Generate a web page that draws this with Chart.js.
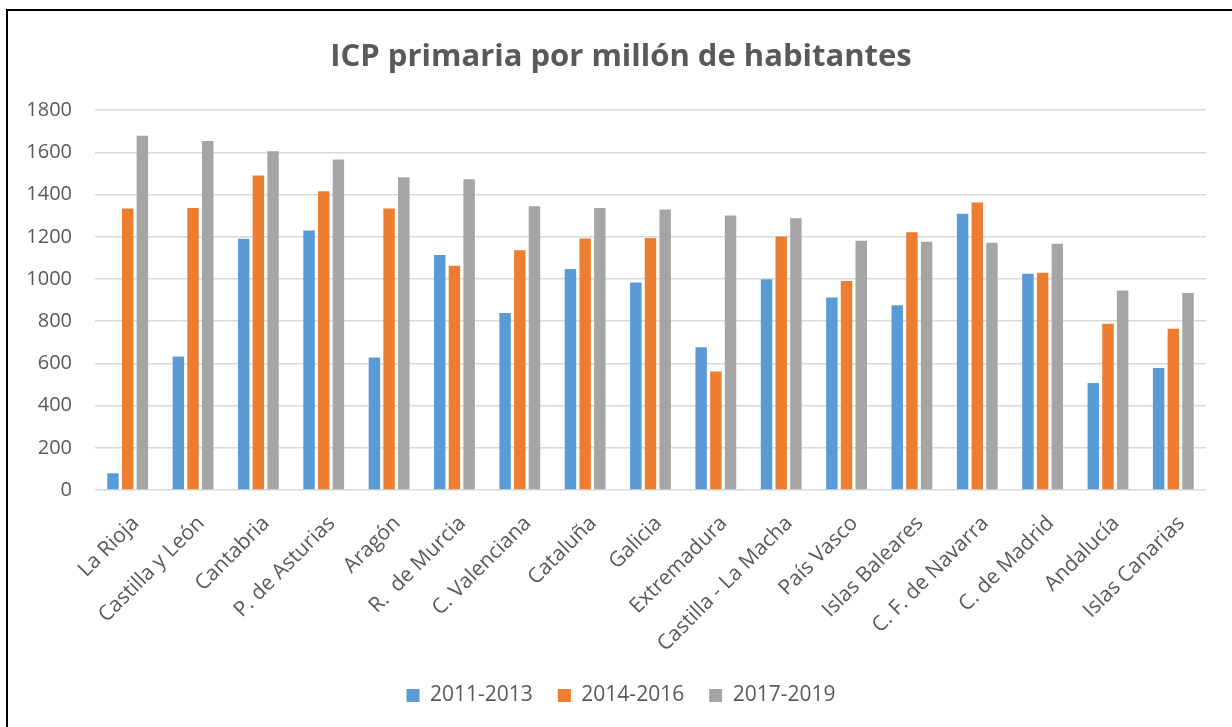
<!DOCTYPE html>
<html>
<head>
<meta charset="utf-8">
<title>ICP primaria por millón de habitantes</title>
<script src="https://cdn.jsdelivr.net/npm/chart.js@4/dist/chart.umd.min.js"></script>
<style>
  body { margin: 0; background: #fff; }
  #frame {
    position: absolute; left: 6px; top: 9px; width: 1300px; height: 800px;
    border-left: 2px solid #000; border-top: 2px solid #000; pointer-events: none;
  }
  canvas { position: absolute; left: 0; top: 0; }
</style>
</head>
<body>
<canvas id="myChart" width="1232" height="727"></canvas>
<div id="frame"></div>
<script>
'use strict';

// Regions (categories) and the three periods
const regions = ['La Rioja', 'Castilla y León', 'Cantabria', 'P. de Asturias', 'Aragón',
  'R.  de Murcia', 'C. Valenciana', 'Cataluña', 'Galicia', 'Extremadura',
  'Castilla - La Macha', 'País Vasco', 'Islas Baleares', 'C. F. de Navarra',
  'C. de Madrid', 'Andalucía', 'Islas Canarias'];

const periods = ['2011-2013', '2014-2016', '2017-2019'];

const values2011 = [79, 633, 1191, 1230, 628, 1114, 839, 1047, 983, 677, 999, 912, 876, 1309, 1025, 507, 578];
const values2014 = [1334, 1337, 1490, 1416, 1334, 1063, 1136, 1192, 1194, 562, 1202, 991, 1221, 1362, 1030, 788, 764];
const values2017 = [1679, 1654, 1605, 1566, 1482, 1473, 1345, 1337, 1329, 1301, 1288, 1181, 1177, 1172, 1167, 945, 934];

const yMin = 0;
const yMax = 1800;
const yStep = 200;

const colors = ['#5B9BD5', '#ED7D31', '#A5A5A5'];
const textColor = '#595959';
const fontFamily = '"Open Sans", "DejaVu Sans", sans-serif';

function makeSet(i, data) {
  return {
    label: periods[i],
    data: data,
    backgroundColor: colors[i],
    borderWidth: 0,
    categoryPercentage: 0.674,
    barPercentage: 0.78
  };
}

const ctx = document.getElementById('myChart').getContext('2d');

const options = {
  type: 'bar',
  data: {
    labels: regions,
    datasets: [
      makeSet(0, values2011),
      makeSet(1, values2014),
      makeSet(2, values2017)
    ]
  },
  options: {
    responsive: false,
    animation: false,
    layout: { padding: { left: 10, right: 0, top: 0, bottom: 11 } },
    plugins: {
      title: {
        display: true,
        text: 'ICP primaria por millón de habitantes',
        color: textColor,
        font: { family: fontFamily, size: 31, weight: 'bold' },
        padding: { top: 39, bottom: 34 }
      },
      legend: {
        position: 'bottom',
        labels: {
          color: textColor,
          font: { family: fontFamily, size: 21 },
          boxWidth: 13,
          boxHeight: 13,
          padding: 25
        }
      },
      tooltip: { enabled: false }
    },
    scales: {
      x: {
        grid: { display: false },
        border: { display: false },
        ticks: {
          color: textColor,
          font: { family: fontFamily, size: 21 },
          maxRotation: 45,
          minRotation: 45,
          autoSkip: false,
          padding: 13,
          labelOffset: 8
        },
        afterFit: function(scale) { scale.height = 170; }
      },
      y: {
        min: yMin,
        max: yMax,
        grid: { color: '#D9D9D9', lineWidth: 1.5, drawTicks: false },
        border: { display: false },
        ticks: {
          stepSize: yStep,
          color: textColor,
          font: { family: fontFamily, size: 20 },
          padding: 23,
          callback: function(value) { return String(value); }
        },
        afterFit: function(scale) { scale.width = 85; }
      },
      // empty right-hand axis, only reserves the blank margin on the right
      spacer: {
        type: 'linear',
        position: 'right',
        grid: { display: false },
        border: { display: false },
        ticks: { display: false },
        afterFit: function(scale) { scale.width = 26; }
      }
    }
  }
};

const myChart = new Chart(ctx, options);
</script>
</body>
</html>
